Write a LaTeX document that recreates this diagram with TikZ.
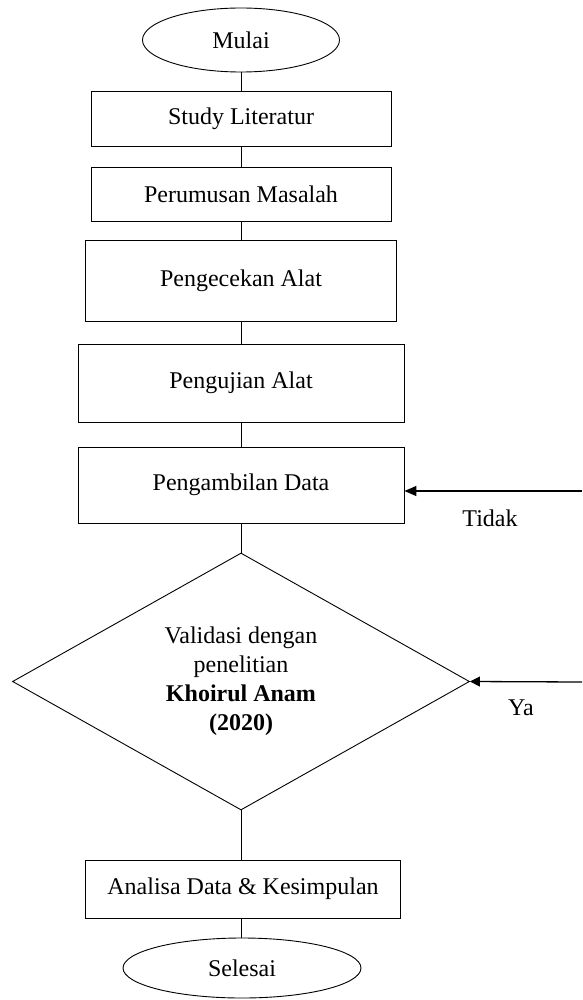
\documentclass[tikz,border=0pt]{standalone}
\usepackage{fontspec}
\setmainfont{Liberation Serif}
\usepackage{tikz}
\usetikzlibrary{shapes.geometric, arrows.meta, positioning}

\begin{document}
\begin{tikzpicture}[
  x=1pt, y=-1pt,
  proses/.style={draw, line width=0.9pt, inner sep=0pt, font=\fontsize{24}{29}\selectfont, align=center},
  terminal/.style={draw, ellipse, line width=0.9pt, inner sep=0pt, font=\fontsize{24}{29}\selectfont},
  keputusan/.style={draw, diamond, aspect=1.78, line width=0.9pt, inner sep=0pt, font=\fontsize{24}{29}\selectfont, align=center},
  alur/.style={line width=0.9pt},
  balik/.style={line width=1.3pt, -{Triangle[length=12pt, width=10pt]}},
  ket/.style={font=\fontsize{24}{29}\selectfont},
]
  \useasboundingbox (0,0) rectangle (582,1000);

  \node[terminal, minimum width=197pt, minimum height=64pt] (mulai) at (241, 40) {Mulai};
  \node[proses, minimum width=300pt, minimum height=55pt] (studi) at (241, 118.5) {Study Literatur};
  \node[proses, minimum width=300pt, minimum height=54pt] (rumusan) at (241, 194) {Perumusan Masalah};
  \node[proses, minimum width=311pt, minimum height=81pt] (cek) at (241, 280.5) {Pengecekan Alat};
  \node[proses, minimum width=326pt, minimum height=78pt] (uji) at (241, 383) {Pengujian Alat};
  \node[proses, minimum width=326pt, minimum height=76pt] (ambil) at (241, 485) {Pengambilan Data};
  \node[keputusan, minimum width=457pt, minimum height=257pt] (validasi) at (241, 681.5)
    {Validasi dengan\\penelitian\\\textbf{Khoirul Anam}\\\textbf{(2020)}};
  \node[proses, minimum width=315pt, minimum height=58pt] (analisa) at (243, 889) {Analisa Data \& Kesimpulan};
  \node[terminal, minimum width=238pt, minimum height=60pt] (selesai) at (242, 968) {Selesai};

  \draw[alur] (mulai) -- (studi);
  \draw[alur] (studi) -- (rumusan);
  \draw[alur] (rumusan) -- (cek);
  \draw[alur] (cek) -- (uji);
  \draw[alur] (uji) -- (ambil);
  \draw[alur] (ambil) -- (validasi);
  \draw[alur] (validasi.south) -- (validasi.south |- analisa.north);
  \draw[alur] (analisa.south -| validasi.south) -- (validasi.south |- selesai.north);

  % umpan balik dari kanan
  \coordinate (tidakujung) at (582, 491);
  \coordinate (yaujung) at (582, 682);
  \draw[balik] (tidakujung) -- (tidakujung -| ambil.east);
  \draw[balik, -{Triangle[length=10pt, width=10pt]}] (yaujung) -- (validasi.east);
  \node[ket] (tidak) at (490, 518) {Tidak};
  \node[ket] (ya) at (521, 708) {Ya};
\end{tikzpicture}
\end{document}
